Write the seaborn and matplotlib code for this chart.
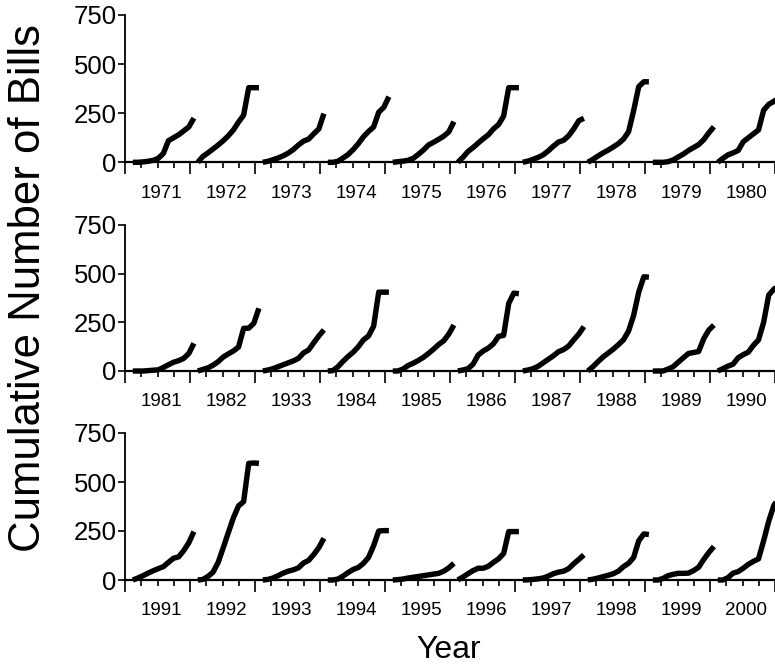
import numpy as np
import pandas as pd
import matplotlib
matplotlib.use("Agg")
import matplotlib.pyplot as plt
import seaborn as sns

# ---------------- data ----------------
months = [0, 1, 2, 3, 4, 5, 6, 7, 8, 9, 10, 11, 12]

row1_labels = ["1971", "1972", "1973", "1974", "1975", "1976", "1977", "1978", "1979", "1980"]
row2_labels = ["1981", "1982", "1933", "1984", "1985", "1986", "1987", "1988", "1989", "1990"]
row3_labels = ["1991", "1992", "1993", "1994", "1995", "1996", "1997", "1998", "1999", "2000"]

row1_counts = [
    [0, 0, 2, 5, 10, 20, 45, 110, 125, 140, 160, 180, 225],
    [0, 30, 48, 68, 88, 110, 135, 165, 205, 240, 380, 380, 380],
    [0, 5, 13, 22, 33, 47, 65, 88, 108, 118, 145, 170, 248],
    [0, 0, 5, 22, 40, 65, 95, 130, 157, 180, 255, 280, 334],
    [0, 3, 6, 10, 20, 40, 62, 88, 102, 117, 133, 155, 207],
    [0, 25, 55, 75, 98, 120, 140, 170, 192, 235, 380, 380, 380],
    [0, 6, 15, 25, 38, 58, 82, 103, 112, 135, 170, 212, 224],
    [0, 15, 32, 48, 62, 78, 95, 118, 155, 263, 385, 410, 410],
    [0, 0, 0, 3, 12, 27, 42, 60, 75, 90, 115, 150, 181],
    [0, 20, 38, 48, 60, 105, 125, 145, 165, 265, 295, 310, 330],
]
row2_counts = [
    [0, 0, 0, 2, 4, 6, 18, 32, 45, 53, 65, 90, 142],
    [0, 8, 16, 30, 48, 72, 88, 103, 123, 219, 220, 245, 322],
    [0, 5, 12, 22, 32, 42, 52, 65, 93, 108, 145, 180, 211],
    [0, 2, 22, 50, 75, 97, 125, 160, 180, 230, 405, 405, 405],
    [0, 0, 10, 28, 40, 54, 70, 90, 112, 136, 155, 190, 236],
    [0, 5, 12, 35, 82, 103, 118, 140, 178, 183, 347, 400, 397],
    [0, 5, 12, 24, 42, 60, 78, 99, 110, 128, 160, 190, 228],
    [0, 22, 48, 72, 92, 112, 135, 160, 205, 285, 405, 484, 482],
    [0, 0, 0, 10, 22, 45, 68, 90, 95, 100, 166, 210, 236],
    [0, 12, 25, 35, 68, 84, 97, 132, 160, 250, 390, 420, 440],
]
row3_counts = [
    [0, 10, 22, 35, 47, 58, 68, 90, 111, 118, 150, 190, 247],
    [0, 3, 18, 40, 90, 165, 242, 318, 378, 400, 595, 597, 595],
    [0, 3, 10, 22, 35, 45, 52, 62, 87, 100, 130, 165, 213],
    [0, 0, 5, 20, 38, 54, 64, 85, 115, 175, 250, 252, 252],
    [0, 2, 5, 10, 14, 18, 22, 26, 30, 34, 45, 62, 85],
    [0, 15, 32, 48, 60, 60, 70, 90, 108, 135, 247, 247, 247],
    [0, 1, 3, 6, 10, 20, 32, 40, 45, 58, 83, 105, 128],
    [0, 4, 10, 17, 24, 32, 45, 68, 85, 115, 200, 235, 232],
    [0, 0, 8, 22, 29, 34, 34, 35, 48, 65, 105, 140, 171],
    [0, 0, 12, 35, 43, 60, 80, 95, 108, 200, 300, 380, 420],
]

y_ticks = [0, 250, 500, 750]

# ---------------- styling ----------------
sns.set_style("ticks")
plt.rcParams["font.family"] = ["Liberation Sans", "DejaVu Sans"]
plt.rcParams.update({
    "text.color": "black", "axes.labelcolor": "black",
    "xtick.color": "black", "ytick.color": "black",
    "axes.edgecolor": "black",
})

W, H = 775, 668
fig = plt.figure(figsize=(W / 100, H / 100), dpi=100)

x_left_px = 125
year_px = 65.5
x_max = (W - x_left_px) / year_px
start_off, span = 0.12, 0.94

panels = [
    (row1_labels, row1_counts, 15, 162.3),
    (row2_labels, row2_counts, 225, 371),
    (row3_labels, row3_counts, 433, 580),
]

for labels, counts, top_px, bot_px in panels:
    ax = fig.add_axes([x_left_px / W, (H - bot_px) / H, (W - x_left_px) / W,
                       (bot_px - top_px) / H])
    recs = []
    for k, (lab, vals) in enumerate(zip(labels, counts)):
        for m, v in zip(months, vals):
            recs.append({"year": lab, "x": k + start_off + span * m / 12.0, "count": v})
    df = pd.DataFrame(recs)
    sns.lineplot(data=df, x="x", y="count", units="year", estimator=None,
                 color="black", linewidth=3.9, ax=ax, legend=False)
    for ln in ax.lines:
        ln.set_clip_on(False)
        ln.set_solid_joinstyle("round")
        ln.set_solid_capstyle("butt")

    ax.set_xlim(0, x_max)
    ax.set_ylim(0, 750)
    ax.set_xlabel("")
    ax.set_ylabel("")
    for s in ["top", "right"]:
        ax.spines[s].set_visible(False)
    ax.spines["left"].set_linewidth(1.3)
    ax.spines["bottom"].set_linewidth(1.6)

    # y ticks
    ax.set_yticks(y_ticks)
    ax.set_yticklabels([str(t) for t in y_ticks])
    ax.tick_params(axis="y", length=5, width=1.2, pad=1, labelsize=18.5)

    # x ticks: long at year boundaries, short at quarters
    ax.set_xticks(np.arange(0, 11))
    ax.set_xticklabels([])
    ax.set_xticks([k + q for k in range(10) for q in (0.25, 0.5, 0.75)], minor=True)
    ax.tick_params(axis="x", which="major", length=8.5, width=1.2, direction="out")
    ax.tick_params(axis="x", which="minor", length=4.3, width=1.2, direction="out")

    sec = ax.secondary_xaxis("bottom")
    sec.set_xticks([k + 0.56 for k in range(10)])
    sec.set_xticklabels(labels)
    sec.tick_params(length=0, pad=16, labelsize=13.5)
    sec.spines["bottom"].set_visible(False)

fig.text(29 / W, 1 - 288 / H, "Cumulative Number of Bills", rotation=90,
         ha="center", va="center", fontsize=31.5)
fig.text(449 / W, 1 - 650 / H, "Year", ha="center", va="center", fontsize=23)

fig.savefig("out.png", dpi=100)
